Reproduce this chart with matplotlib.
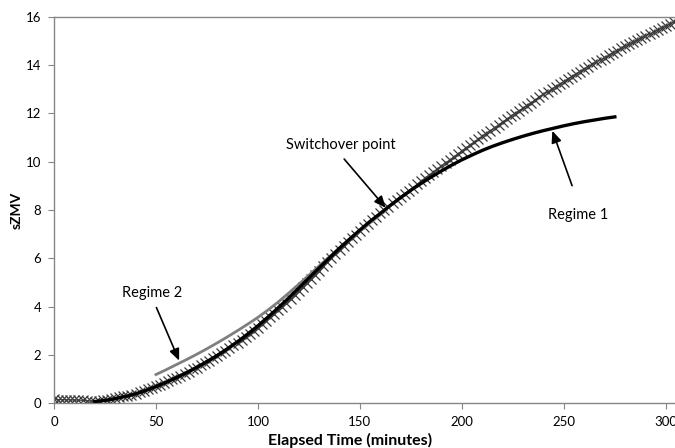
import matplotlib.pyplot as plt
import numpy as np

plt.rcParams['font.family'] = ['Lato', 'DejaVu Sans']

# measured sZMV, one reading every 2 minutes from 0 to 304
t_meas = list(range(0, 306, 2))
szmv = [0.15, 0.14, 0.14, 0.13, 0.13, 0.12, 0.12, 0.11, 0.09, 0.08,
        0.06, 0.08, 0.11, 0.14, 0.16, 0.19, 0.23, 0.27, 0.31, 0.35,
        0.39, 0.45, 0.51, 0.57, 0.63, 0.69, 0.76, 0.83, 0.91, 0.98,
        1.05, 1.13, 1.22, 1.30, 1.39, 1.47, 1.57, 1.66, 1.76, 1.85,
        1.95, 2.06, 2.17, 2.28, 2.39, 2.50, 2.62, 2.75, 2.87, 3.00,
        3.12, 3.26, 3.41, 3.55, 3.70, 3.84, 4.00, 4.16, 4.32, 4.48,
        4.64, 4.81, 4.98, 5.15, 5.32, 5.49, 5.66, 5.83, 6.00, 6.17,
        6.34, 6.50, 6.66, 6.82, 6.98, 7.14, 7.28, 7.43, 7.57, 7.72,
        7.86, 8.00, 8.13, 8.27, 8.40, 8.54, 8.67, 8.80, 8.93, 9.06,
        9.19, 9.32, 9.44, 9.57, 9.69, 9.82, 9.95, 10.07, 10.20, 10.32,
        10.45, 10.57, 10.69, 10.81, 10.93, 11.05, 11.17, 11.29, 11.41, 11.53,
        11.65, 11.76, 11.88, 11.99, 12.11, 12.22, 12.33, 12.45, 12.56, 12.68,
        12.79, 12.90, 13.00, 13.11, 13.21, 13.32, 13.43, 13.53, 13.64, 13.74,
        13.85, 13.94, 14.04, 14.13, 14.23, 14.32, 14.41, 14.51, 14.60, 14.70,
        14.79, 14.87, 14.96, 15.04, 15.13, 15.21, 15.29, 15.38, 15.46, 15.55,
        15.63, 15.71, 15.80]

# regime 1 model (black)
t_reg1 = list(range(20, 280, 5))
reg1 = [0.06, 0.11, 0.18, 0.27, 0.38, 0.52, 0.68, 0.86, 1.05, 1.26,
        1.48, 1.72, 1.97, 2.25, 2.54, 2.86, 3.20, 3.57, 3.95, 4.35,
        4.76, 5.18, 5.60, 6.01, 6.42, 6.80, 7.17, 7.53, 7.86, 8.20,
        8.52, 8.82, 9.10, 9.37, 9.62, 9.86, 10.08, 10.28, 10.47, 10.64,
        10.79, 10.93, 11.06, 11.18, 11.29, 11.39, 11.49, 11.58, 11.66, 11.73,
        11.80, 11.86]

# regime 2 model (grey)
t_reg2 = [50, 55, 60, 65, 70, 75, 80, 85, 90, 95, 100, 105, 110, 115,
          120, 125, 130, 135, 140, 145, 150, 155, 160, 163]
reg2 = [1.18, 1.38, 1.59, 1.80, 2.02, 2.25, 2.49, 2.74, 3.00, 3.27,
        3.55, 3.86, 4.19, 4.55, 4.92, 5.30, 5.68, 6.06, 6.42, 6.78,
        7.12, 7.47, 7.80, 8.00]

fig = plt.figure(figsize=(6.75, 4.48), dpi=100)
ax = fig.add_axes([54/675, 1 - 403/448, 1 - 54/675, (403 - 17)/448])

ax.plot(t_meas, szmv, color='#444444', lw=0.9, marker='x', ms=6.5,
        mew=0.9, mec='#3a3a3a', zorder=2)
ax.plot(t_reg2, reg2, color='#7f7f7f', lw=2, zorder=3)
ax.plot(t_reg1, reg1, color='black', lw=2.4, zorder=4)

arrow = dict(arrowstyle='-|>,head_length=0.7,head_width=0.3', color='black', lw=1.2)
ax.annotate('', xy=(163.6, 8.0), xytext=(141.4, 10.2), arrowprops=arrow, zorder=5)
ax.text(140.6, 10.7, 'Switchover point', ha='center', va='center', fontsize=10.5)
ax.annotate('', xy=(243.9, 11.39), xytext=(254.5, 8.9), arrowprops=arrow, zorder=5)
ax.text(257, 7.8, 'Regime 1', ha='center', va='center', fontsize=10.5)
ax.annotate('', xy=(61.9, 1.65), xytext=(49.7, 4.06), arrowprops=arrow, zorder=5)
ax.text(48, 4.55, 'Regime 2', ha='center', va='center', fontsize=10.5)

ax.set_xlim(0, 304.5)
ax.set_ylim(0, 16)
ax.set_xticks(np.arange(0, 301, 50))
ax.set_yticks(np.arange(0, 17, 2))
ax.tick_params(direction='out', length=4, width=0.8, color='#868686',
               labelsize=9.5, pad=5)
for side in ['left', 'bottom', 'top']:
    ax.spines[side].set_color('#868686')
    ax.spines[side].set_linewidth(1)
ax.spines['right'].set_visible(False)

ax.set_xlabel('Elapsed Time (minutes)', fontsize=11.5, fontweight='bold')
ax.xaxis.set_label_coords((350 - 54)/621, -0.078)
ax.set_ylabel('sZMV', fontsize=10, fontweight='bold')
ax.yaxis.set_label_coords(-0.05, 0.5)

fig.savefig('out.png', dpi=100)
